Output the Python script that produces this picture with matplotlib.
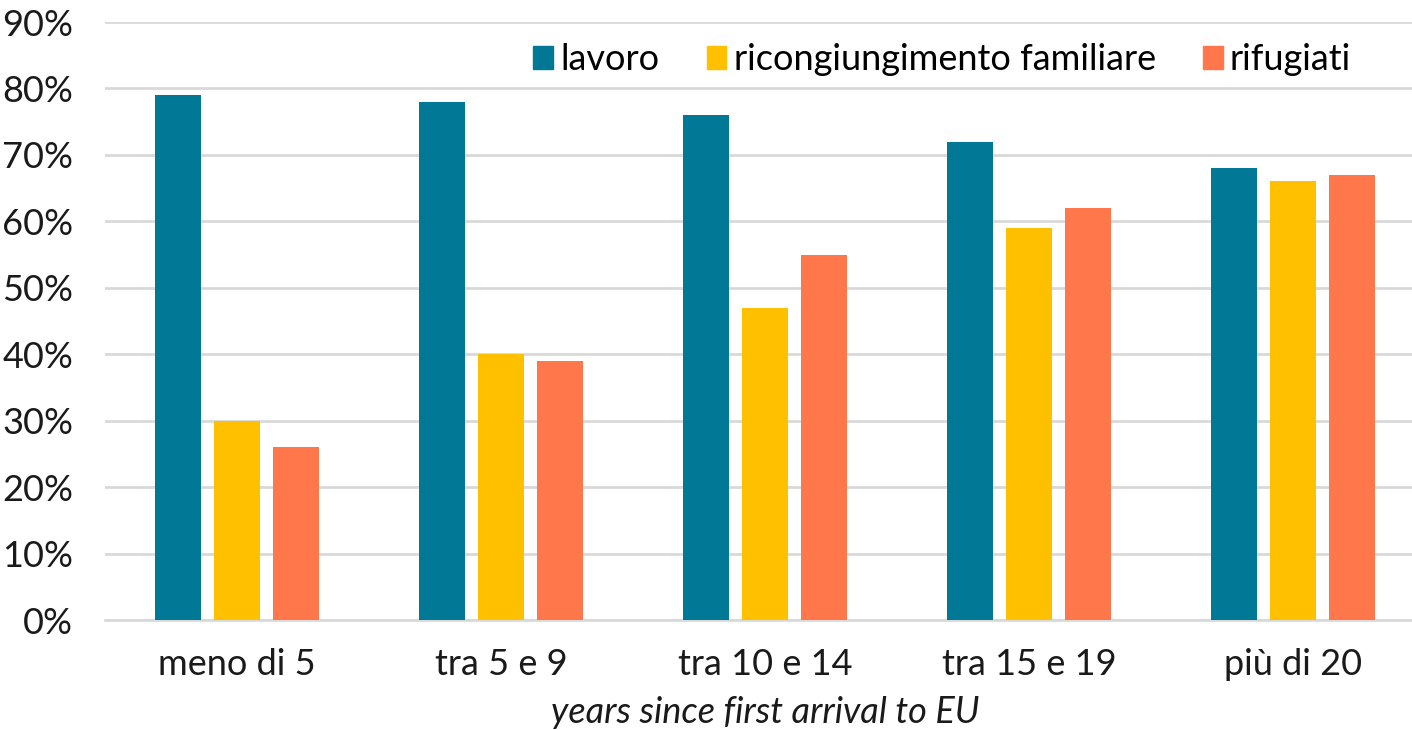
import matplotlib
matplotlib.use("Agg")
import matplotlib.pyplot as plt
import matplotlib.patches as mpatches
import numpy as np

categories = ["meno di 5", "tra 5 e 9", "tra 10 e 14", "tra 15 e 19", "più di 20"]
series_names = ["lavoro", "ricongiungimento familiare", "rifugiati"]
lavoro = [0.79, 0.78, 0.76, 0.72, 0.68]
ricongiungimento = [0.30, 0.40, 0.47, 0.59, 0.66]
rifugiati = [0.26, 0.39, 0.55, 0.62, 0.67]
y_ticks = [0.0, 0.1, 0.2, 0.3, 0.4, 0.5, 0.6, 0.7, 0.8, 0.9]
x_label = "years since first arrival to EU"

COLORS = ["#007896", "#FFC000", "#FF774A"]
FONT = ["Lato", "DejaVu Sans"]
FS = 26

plt.rcParams["font.family"] = FONT

fig = plt.figure(figsize=(14.12, 7.30), dpi=100)
ax = fig.add_axes([105 / 1412, 110 / 730, 1320 / 1412, 598 / 730])

x = np.arange(len(categories))
width = 0.174
step = 0.222
for i, (vals, color) in enumerate(zip([lavoro, ricongiungimento, rifugiati], COLORS)):
    ax.bar(x + (i - 1) * step, vals, width=width, color=color, zorder=3)

ax.set_xlim(-0.5, len(categories) - 0.5)
ax.set_ylim(0, 0.9)
ax.set_yticks(y_ticks)
ax.set_yticklabels([f"{int(round(t * 100))}%" for t in y_ticks], fontsize=FS)
ax.set_xticks(x)
ax.set_xticklabels(categories, fontsize=FS)
ax.tick_params(axis="both", length=0, colors="#1a1a1a")
ax.tick_params(axis="y", pad=23)
ax.tick_params(axis="x", pad=20)

ax.grid(axis="y", color="#D9D9D9", linewidth=2, zorder=0)
ax.set_axisbelow(True)
for side in ["top", "right", "left"]:
    ax.spines[side].set_visible(False)
ax.spines["bottom"].set_color("#D9D9D9")
ax.spines["bottom"].set_linewidth(2)

ax.set_xlabel(x_label, fontsize=FS, style="italic", color="#1a1a1a", labelpad=11)

handles = [mpatches.Patch(color=c, label=n) for c, n in zip(COLORS, series_names)]
ax.legend(handles=handles, loc="upper right", bbox_to_anchor=(0.944, 0.965),
          ncol=3, frameon=False, fontsize=FS, handlelength=0.55, handleheight=0.6,
          handletextpad=0.2, columnspacing=1.3, borderpad=0, borderaxespad=0)

fig.savefig("out.png", dpi=100)
